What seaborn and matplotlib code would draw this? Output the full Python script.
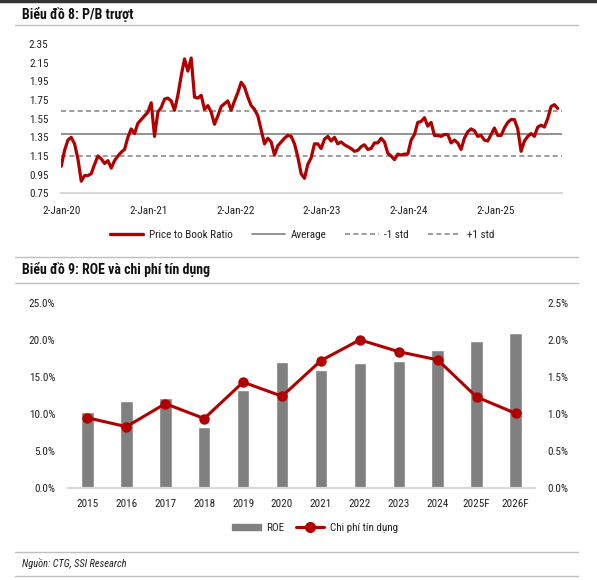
import numpy as np
import pandas as pd
import matplotlib
matplotlib.use('Agg')
import matplotlib.pyplot as plt
from matplotlib.lines import Line2D
from matplotlib.patches import Patch
import seaborn as sns

# P/B trailing: one reading every 14 days starting 2-Jan-2020
pb_start = '2020-01-02'
pb_values = [
    1.04, 1.21, 1.32, 1.35, 1.28, 1.12, 0.88, 0.94, 0.94, 0.96,
    1.06, 1.15, 1.12, 1.07, 1.10, 1.02, 1.10, 1.15, 1.19, 1.22,
    1.35, 1.44, 1.39, 1.50, 1.54, 1.58, 1.62, 1.72, 1.36, 1.62,
    1.67, 1.76, 1.77, 1.74, 1.64, 1.80, 2.01, 2.19, 2.06, 2.20,
    1.78, 1.77, 1.80, 1.65, 1.69, 1.62, 1.49, 1.58, 1.68, 1.71,
    1.74, 1.64, 1.74, 1.83, 1.94, 1.89, 1.78, 1.69, 1.65, 1.58,
    1.43, 1.28, 1.34, 1.30, 1.16, 1.26, 1.30, 1.34, 1.37, 1.36,
    1.28, 1.14, 0.96, 0.91, 1.06, 1.13, 1.28, 1.28, 1.23, 1.33,
    1.36, 1.31, 1.35, 1.28, 1.30, 1.27, 1.25, 1.23, 1.20, 1.21,
    1.25, 1.27, 1.22, 1.23, 1.29, 1.29, 1.34, 1.30, 1.18, 1.15,
    1.11, 1.17, 1.16, 1.17, 1.17, 1.32, 1.38, 1.51, 1.52, 1.56,
    1.47, 1.51, 1.37, 1.37, 1.36, 1.38, 1.38, 1.29, 1.32, 1.29,
    1.22, 1.34, 1.41, 1.44, 1.42, 1.36, 1.37, 1.32, 1.31, 1.38,
    1.45, 1.37, 1.37, 1.45, 1.51, 1.54, 1.54, 1.44, 1.20, 1.31,
    1.36, 1.39, 1.36, 1.46, 1.48, 1.46, 1.55, 1.68, 1.70, 1.66,
]
pb_avg = 1.39
pb_std = 0.24
pb_tick_dates = ['2020-01-02', '2021-01-02', '2022-01-02',
                 '2023-01-02', '2024-01-02', '2025-01-02']
pb_tick_labels = ['2-Jan-20', '2-Jan-21', '2-Jan-22', '2-Jan-23', '2-Jan-24', '2-Jan-25']
pb_yticks = [0.75, 0.95, 1.15, 1.35, 1.55, 1.75, 1.95, 2.15, 2.35]

# ROE and credit cost (%)
years = ['2015', '2016', '2017', '2018', '2019', '2020',
         '2021', '2022', '2023', '2024', '2025F', '2026F']
roe = [10.3, 11.7, 12.1, 8.2, 13.2, 17.0, 16.0, 16.9, 17.2, 18.6, 19.8, 20.9]
credit_cost = [0.95, 0.83, 1.14, 0.94, 1.43, 1.24, 1.72, 2.00, 1.84, 1.73, 1.23, 1.01]

RED = '#B00000'
GREY_BAR = '#808080'
AXIS_GREY = '#D9D9D9'
TXT = '#222222'
FS = 7.5

sns.set_theme(style='white')
plt.rcParams['font.family'] = ['Roboto Condensed', 'DejaVu Sans']

W, H = 597, 580
fig = plt.figure(figsize=(W / 100, H / 100), dpi=100)


def fx(px):
    return px / W


def fy(py):
    return 1 - py / H


# ---- chart 8: P/B
pb = pd.DataFrame({'date': pd.date_range(pb_start, periods=len(pb_values), freq='14D'),
                   'pb': pb_values})
ax1 = fig.add_axes([fx(61), fy(193.3), fx(501), 149.3 / H])
for lvl, ls, c in [(pb_avg, '-', '#7F7F7F'),
                   (pb_avg - pb_std, (0, (3, 2)), '#8C8C8C'),
                   (pb_avg + pb_std, (0, (3, 2)), '#8C8C8C')]:
    ax1.axhline(lvl, color=c, lw=1.2, ls=ls, zorder=1)
sns.lineplot(data=pb, x='date', y='pb', color=RED, lw=2.3, ax=ax1, zorder=3)
ax1.set_xlim(pd.Timestamp('2020-01-01'), pd.Timestamp('2025-10-06'))
ax1.set_ylim(0.75, 2.35)
ax1.set_yticks(pb_yticks)
ax1.set_yticklabels([f'{v:.2f}' for v in pb_yticks])
ax1.set_xticks(pd.to_datetime(pb_tick_dates))
ax1.set_xticklabels(pb_tick_labels)
ax1.set_xlabel('')
ax1.set_ylabel('')
for s in ['top', 'left', 'right']:
    ax1.spines[s].set_visible(False)
ax1.spines['bottom'].set_color(AXIS_GREY)
ax1.spines['bottom'].set_linewidth(1.5)
ax1.tick_params(axis='x', length=3, color=AXIS_GREY, labelsize=FS + 0.5, labelcolor=TXT, pad=6)
ax1.tick_params(axis='y', length=0, labelsize=FS + 0.5, labelcolor=TXT, pad=9)

h1 = [Line2D([], [], color=RED, lw=2.4),
      Line2D([], [], color='#7F7F7F', lw=1.2),
      Line2D([], [], color='#8C8C8C', lw=1.2, ls=(0, (3, 2))),
      Line2D([], [], color='#8C8C8C', lw=1.2, ls=(0, (3, 2)))]
fig.legend(h1, ['Price to Book Ratio', 'Average', '-1 std', '+1 std'],
           loc='center', bbox_to_anchor=(fx(302), fy(235)), ncol=4, frameon=False,
           fontsize=FS + 0.5, handlelength=3, handletextpad=0.5, columnspacing=1.7,
           labelcolor=TXT)

# ---- chart 9: ROE and credit cost
ax2 = fig.add_axes([fx(68), fy(488.3), fx(467), 185.6 / H])
sns.barplot(x=years, y=roe, color=GREY_BAR, saturation=1, width=0.32, ax=ax2, zorder=2)
ax2.set_xlim(-0.5, len(years) - 0.5)
ax2.set_ylim(0, 25)
ax2.set_yticks(np.arange(0, 26, 5))
ax2.set_yticklabels([f'{v:.1f}%' for v in np.arange(0, 26, 5)])
ax3 = ax2.twinx()
sns.lineplot(x=np.arange(len(years)), y=credit_cost, color=RED, lw=2.2, marker='o',
             markersize=7.5, markeredgewidth=0, ax=ax3)
ax3.set_xlim(-0.5, len(years) - 0.5)
ax3.set_ylim(0, 2.5)
ax3.set_yticks(np.arange(0, 2.51, 0.5))
ax3.set_yticklabels([f'{v:.1f}%' for v in np.arange(0, 2.51, 0.5)])
for a in (ax2, ax3):
    for s in ['top', 'left', 'right']:
        a.spines[s].set_visible(False)
    a.spines['bottom'].set_color(AXIS_GREY)
    a.spines['bottom'].set_linewidth(1.5)
    a.set_xlabel('')
    a.set_ylabel('')
    a.tick_params(axis='both', length=0, labelsize=FS + 0.5, labelcolor=TXT)
ax2.tick_params(axis='y', pad=9)
ax3.tick_params(axis='y', pad=9)
ax2.tick_params(axis='x', pad=8)

h2 = [Patch(color=GREY_BAR),
      Line2D([], [], color=RED, lw=2.2, marker='o', markersize=7)]
fig.legend(h2, ['ROE', 'Chi phí tín dụng'], loc='center', bbox_to_anchor=(fx(315), fy(528)),
           ncol=2, frameon=False, fontsize=FS + 0.5, handlelength=2.6, handleheight=0.5,
           handletextpad=0.5, columnspacing=1.0, labelcolor=TXT)

# ---- titles, rules, source
fig.add_artist(Line2D([0, 1], [fy(1), fy(1)], color='#333333', lw=2.5, transform=fig.transFigure))
for py in [25, 257, 283, 552, 576]:
    fig.add_artist(Line2D([fx(15), fx(578)], [fy(py), fy(py)], color='#BFBFBF', lw=1,
                          transform=fig.transFigure))
fig.text(fx(22), fy(14), 'Biểu đồ 8: P/B trượt', fontsize=10, fontweight='bold',
         va='center', ha='left', color='#111111')
fig.text(fx(22), fy(270), 'Biểu đồ 9: ROE và chi phí tín dụng', fontsize=10,
         fontweight='bold', va='center', ha='left', color='#111111')
fig.text(fx(22), fy(564), 'Nguồn: CTG, SSI Research', fontsize=FS, style='italic',
         va='center', ha='left', color=TXT)

fig.savefig('out.png', dpi=100)
